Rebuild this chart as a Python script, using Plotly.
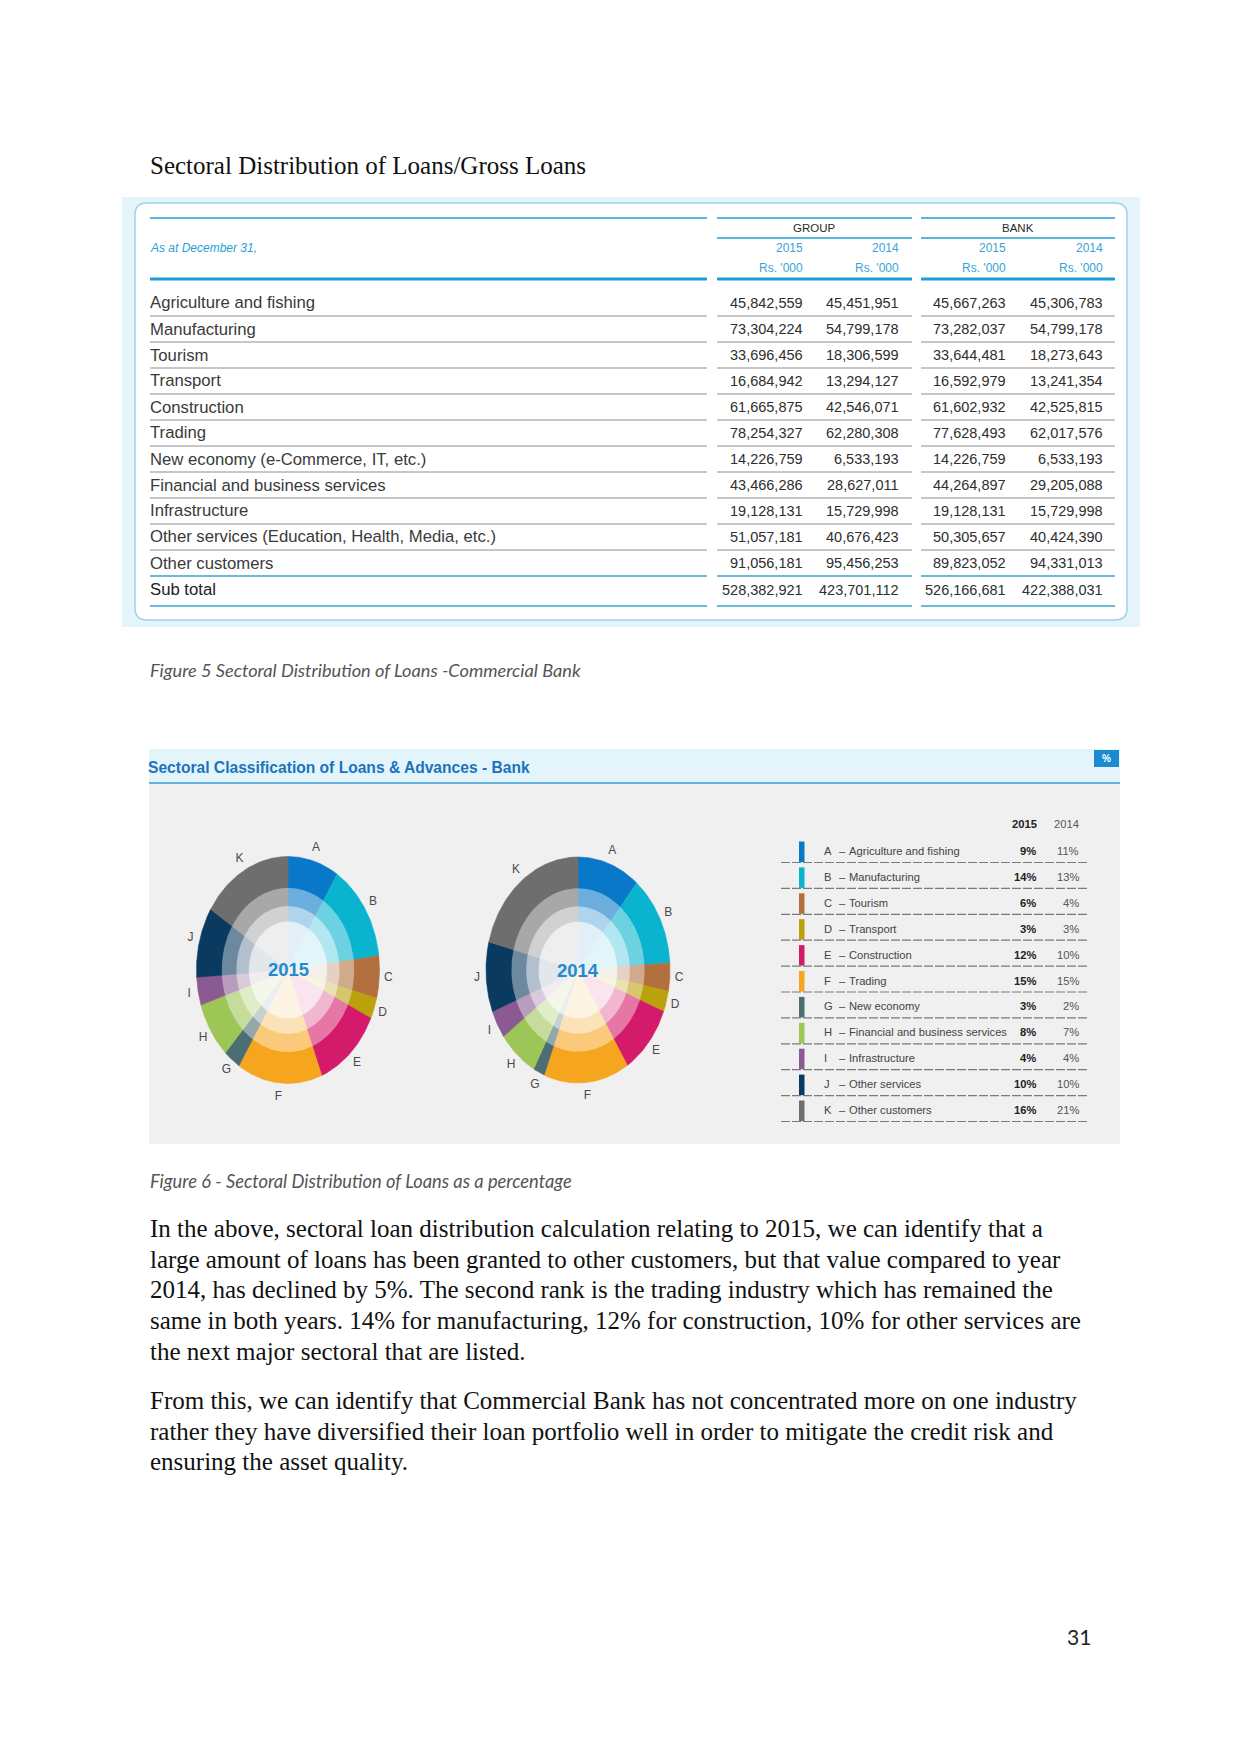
import math
import plotly.graph_objects as go

W, H = 1241, 1754
OFF = 8                      # default body margin of the page that holds the figure
FW, FH = W - 2 * OFF, H - 2 * OFF

# ------------------------------------------------------------------ data
sectors = ["Agriculture and fishing", "Manufacturing", "Tourism", "Transport", "Construction", "Trading",
           "New economy (e-Commerce, IT, etc.)", "Financial and business services", "Infrastructure",
           "Other services (Education, Health, Media, etc.)", "Other customers"]
group_2015 = [45842559, 73304224, 33696456, 16684942, 61665875, 78254327, 14226759, 43466286,
              19128131, 51057181, 91056181]
group_2014 = [45451951, 54799178, 18306599, 13294127, 42546071, 62280308, 6533193, 28627011,
              15729998, 40676423, 95456253]
bank_2015 = [45667263, 73282037, 33644481, 16592979, 61602932, 77628493, 14226759, 44264897,
             19128131, 50305657, 89823052]
bank_2014 = [45306783, 54799178, 18273643, 13241354, 42525815, 62017576, 6533193, 29205088,
             15729998, 40424390, 94331013]
subtotal_label = "Sub total"

letters = ["A", "B", "C", "D", "E", "F", "G", "H", "I", "J", "K"]
legend_names = ["Agriculture and fishing", "Manufacturing", "Tourism", "Transport", "Construction",
                "Trading", "New economy", "Financial and business services", "Infrastructure",
                "Other services", "Other customers"]
pct_2015 = [9, 14, 6, 3, 12, 15, 3, 8, 4, 10, 16]
pct_2014 = [11, 13, 4, 3, 10, 15, 2, 7, 4, 10, 21]
sector_colors = ["#0a78c8", "#0ab4cf", "#b2703e", "#bba10c", "#d41b6b", "#f6a51f",
                 "#4b6e74", "#9dc656", "#8b5a92", "#0a3a5f", "#6e6e6e"]

page_title = "Sectoral Distribution of Loans/Gross Loans"
fig5_caption = "Figure 5 Sectoral Distribution of Loans -Commercial Bank"
fig6_title = "Sectoral Classification of Loans & Advances - Bank"
fig6_caption = "Figure 6 - Sectoral Distribution of Loans as a percentage"
paragraph1 = ["In the above, sectoral loan distribution calculation relating to 2015, we can identify that a",
              "large amount of loans has been granted to other customers, but that value compared to year",
              "2014, has declined by 5%. The second rank is the trading industry which has remained the",
              "same in both years. 14% for manufacturing, 12% for construction, 10% for other services are",
              "the next major sectoral that are listed."]
paragraph2 = ["From this, we can identify that Commercial Bank has not concentrated more on one industry",
              "rather they have diversified their loan portfolio well in order to mitigate the credit risk and",
              "ensuring the asset quality."]
page_number = "31"

# ------------------------------------------------------------------ styles
SERIF = "Liberation Serif, Times New Roman, serif"
SANS = "Liberation Sans, Arial, sans-serif"
CAL = "Lato, Carlito, Calibri, sans-serif"
BLUE_LINE = "#1c9fd6"
TXT = "#333333"


def X(v):
    return (v - OFF) / FW


def Y(v):
    return 1 - (v - OFF) / FH


annotations = []
shapes = []


def txt(x, y, s, size, color=TXT, family=SANS, anchor="left"):
    if anchor == "left":
        x -= 2
    elif anchor == "right":
        x += 2
    annotations.append(dict(x=X(x), y=Y(y), xref="paper", yref="paper", text=s, showarrow=False,
                            xanchor=anchor, yanchor="middle",
                            font=dict(size=size, color=color, family=family)))


def hline(x0, x1, y, color, width, dash="solid"):
    shapes.append(dict(type="line", xref="paper", yref="paper", x0=X(x0), x1=X(x1), y0=Y(y), y1=Y(y),
                       line=dict(color=color, width=width, dash=dash)))


def rect(x0, y0, x1, y1, fill, line_color=None, width=0, layer="below"):
    shapes.append(dict(type="rect", xref="paper", yref="paper", x0=X(x0), x1=X(x1), y0=Y(y0), y1=Y(y1),
                       fillcolor=fill, layer=layer,
                       line=dict(color=line_color or fill, width=width)))


def rounded(x0, y0, x1, y1, r, fill, line_color, width):
    p = (f"M {X(x0 + r)},{Y(y0)} L {X(x1 - r)},{Y(y0)} Q {X(x1)},{Y(y0)} {X(x1)},{Y(y0 + r)} "
         f"L {X(x1)},{Y(y1 - r)} Q {X(x1)},{Y(y1)} {X(x1 - r)},{Y(y1)} L {X(x0 + r)},{Y(y1)} "
         f"Q {X(x0)},{Y(y1)} {X(x0)},{Y(y1 - r)} L {X(x0)},{Y(y0 + r)} Q {X(x0)},{Y(y0)} {X(x0 + r)},{Y(y0)} Z")
    shapes.append(dict(type="path", path=p, xref="paper", yref="paper", fillcolor=fill, layer="below",
                       line=dict(color=line_color, width=width)))


def fmt(v):
    return f"{v:,}"


# ------------------------------------------------------------------ page title
txt(150, 165, page_title, 25, "#111111", SERIF)

# ------------------------------------------------------------------ table (Figure 5)
rect(122, 197, 1140, 627, "#e5f4fa")
rounded(135, 203, 1127, 620, 12, "#ffffff", "#9fd2e8", 1.5)

segs_all = [(150, 707), (717, 912), (921, 1115)]
for a, b in segs_all:
    hline(a, b, 218, BLUE_LINE, 1.4)
    hline(a, b, 279, BLUE_LINE, 3)
for a, b in segs_all[1:]:
    hline(a, b, 238, BLUE_LINE, 1.4)

txt(150, 248, "<i>As at December 31,</i>", 12, "#2a9fd6", SANS)
txt(814, 228, "GROUP", 11.5, "#2a2a2a", SANS, "center")
txt(1018, 228, "BANK", 11.5, "#2a2a2a", SANS, "center")
col_right = [803, 899, 1006, 1103]
col_years = ["2015", "2014", "2015", "2014"]
for xr, yr in zip(col_right, col_years):
    txt(xr, 248, yr, 12, "#3aa2d6", SANS, "right")
    txt(xr, 268, "Rs. '000", 12, "#3aa2d6", SANS, "right")

columns = [group_2015, group_2014, bank_2015, bank_2014]
row0, pitch = 303, 26
for i, name in enumerate(sectors):
    yy = row0 + pitch * i
    txt(150, yy, name, 16.7, "#3a3a3a", SANS)
    for xr, col in zip(col_right, columns):
        txt(xr, yy, fmt(col[i]), 14.5, "#2e2e2e", SANS, "right")
    if i < len(sectors) - 1:
        for a, b in segs_all:
            hline(a, b, yy + 13, "#b4b4b4", 1.5)

for a, b in segs_all:
    hline(a, b, 576, "#6cb9d9", 2)
    hline(a, b, 606, "#6cb9d9", 2)
txt(150, 590, subtotal_label, 16.7, "#222222", SANS)
for xr, col in zip(col_right, columns):
    txt(xr, 590, fmt(sum(col)), 14.5, "#2e2e2e", SANS, "right")

txt(150, 670, f"<i>{fig5_caption}</i>", 18.2, "#555555", CAL)

# ------------------------------------------------------------------ Figure 6 panel
rect(149, 749, 1120, 783, "#e4f4fb")
rect(149, 783, 1120, 1144, "#f0f0f0")
hline(149, 1120, 783, "#3c9bd6", 1.6)
txt(148, 767, f"<b>{fig6_title}</b>", 15.6, "#1b74bb", SANS)
rect(1094, 750, 1119, 767, "#1a8bd0", layer="above")
txt(1106.5, 758.5, "<b>%</b>", 10, "#ffffff", SANS, "center")


def blend(hexc, f):
    r, g, b = int(hexc[1:3], 16), int(hexc[3:5], 16), int(hexc[5:7], 16)
    r, g, b = [round(c + (255 - c) * f) for c in (r, g, b)]
    return f"rgb({r},{g},{b})"


rings = [(0.72, 1.0, 0.0), (0.56, 0.72, 0.40), (0.425, 0.56, 0.68), (0.0, 0.425, 0.88)]
traces = []
PAD = 1.4


def donut(pcts, axis_id, year):
    xa = "x" if axis_id == 1 else f"x{axis_id}"
    ya = "y" if axis_id == 1 else f"y{axis_id}"
    total = float(sum(pcts))
    cum = 0.0
    for i, p in enumerate(pcts):
        a0 = 2 * math.pi * cum / total
        a1 = 2 * math.pi * (cum + p) / total
        cum += p
        n = max(8, int(p * 4))
        ts = [a0 + (a1 - a0) * k / n for k in range(n + 1)]
        for r0, r1, f in rings:
            xs = [r1 * math.sin(t) for t in ts] + [r0 * math.sin(t) for t in reversed(ts)]
            ys = [r1 * math.cos(t) for t in ts] + [r0 * math.cos(t) for t in reversed(ts)]
            c = blend(sector_colors[i], f)
            traces.append(go.Scatter(x=xs + [xs[0]], y=ys + [ys[0]], xaxis=xa, yaxis=ya, mode="lines",
                                     fill="toself", fillcolor=c, line=dict(color=c, width=0.6),
                                     hoverinfo="skip", showlegend=False))
    # letters at slice mid-angles
    cum = 0.0
    lx, ly = [], []
    for p in pcts:
        am = 2 * math.pi * (cum + p / 2) / total
        cum += p
        lx.append(1.10 * math.sin(am))
        ly.append(1.12 * math.cos(am))
    traces.append(go.Scatter(x=lx, y=ly, xaxis=xa, yaxis=ya, mode="text", text=letters,
                             textfont=dict(size=12, color="#4a4a4a", family=SANS),
                             hoverinfo="skip", showlegend=False))
    annotations.append(dict(x=0, y=0, xref=xa, yref=ya, text=f"<b>{year}</b>", showarrow=False,
                            font=dict(size=18.5, color="#1e8ad2", family=SANS)))


def axes(cx, cy, rx, ry):
    xd = [X(cx - PAD * rx), X(cx + PAD * rx)]
    yd = [Y(cy + PAD * ry), Y(cy - PAD * ry)]
    common = dict(range=[-PAD, PAD], visible=False, fixedrange=True, showgrid=False, zeroline=False)
    return dict(domain=xd, **common), dict(domain=yd, **common)


donut(pct_2015, 1, "2015")
donut(pct_2014, 2, "2014")
xa1, ya1 = axes(288, 970, 91.5, 113.5)
xa2, ya2 = axes(578, 970, 92, 113)
xa1["anchor"] = "y"
ya1["anchor"] = "x"
xa2["anchor"] = "y2"
ya2["anchor"] = "x2"

# legend table of Figure 6
LFS = 11.2
txt(1037, 824, "<b>2015</b>", LFS, "#222222", SANS, "right")
txt(1079, 824, "2014", LFS, "#555555", SANS, "right")
lrow0, lpitch = 851, 25.9
for i, (l, nm) in enumerate(zip(letters, legend_names)):
    yy = lrow0 + lpitch * i
    rect(799, yy - 9.5, 804.5, yy + 11, sector_colors[i], layer="above")
    txt(824, yy, l, LFS, "#444444", SANS)
    txt(839, yy, "–", LFS, "#444444", SANS)
    txt(849, yy, nm, LFS, "#444444", SANS)
    txt(1036, yy, f"<b>{pct_2015[i]}%</b>", LFS, "#222222", SANS, "right")
    txt(1079, yy, f"{pct_2014[i]}%", LFS, "#555555", SANS, "right")
    hline(781, 1087, yy + 11.5, "#7a7a7a", 1.2, "9px,2px")

txt(150, 1181, f"<i>{fig6_caption}</i>", 18.3, "#555555", CAL)

# ------------------------------------------------------------------ body text
p1_y = [1228, 1259, 1289, 1320, 1351]
for yy, line in zip(p1_y, paragraph1):
    txt(150, yy, line, 25, "#111111", SERIF)
p2_y = [1400, 1431, 1461]
for yy, line in zip(p2_y, paragraph2):
    txt(150, yy, line, 25, "#111111", SERIF)

txt(1079, 1636, page_number, 21, "#222222", CAL, "center")

fig = go.Figure(data=traces)
fig.update_layout(width=FW, height=FH, margin=dict(l=0, r=0, t=0, b=0),
                  paper_bgcolor="#ffffff", plot_bgcolor="rgba(0,0,0,0)",
                  xaxis=xa1, yaxis=ya1, xaxis2=xa2, yaxis2=ya2,
                  annotations=annotations, shapes=shapes, showlegend=False)
fig.write_html("out.html", config={"displayModeBar": False})
